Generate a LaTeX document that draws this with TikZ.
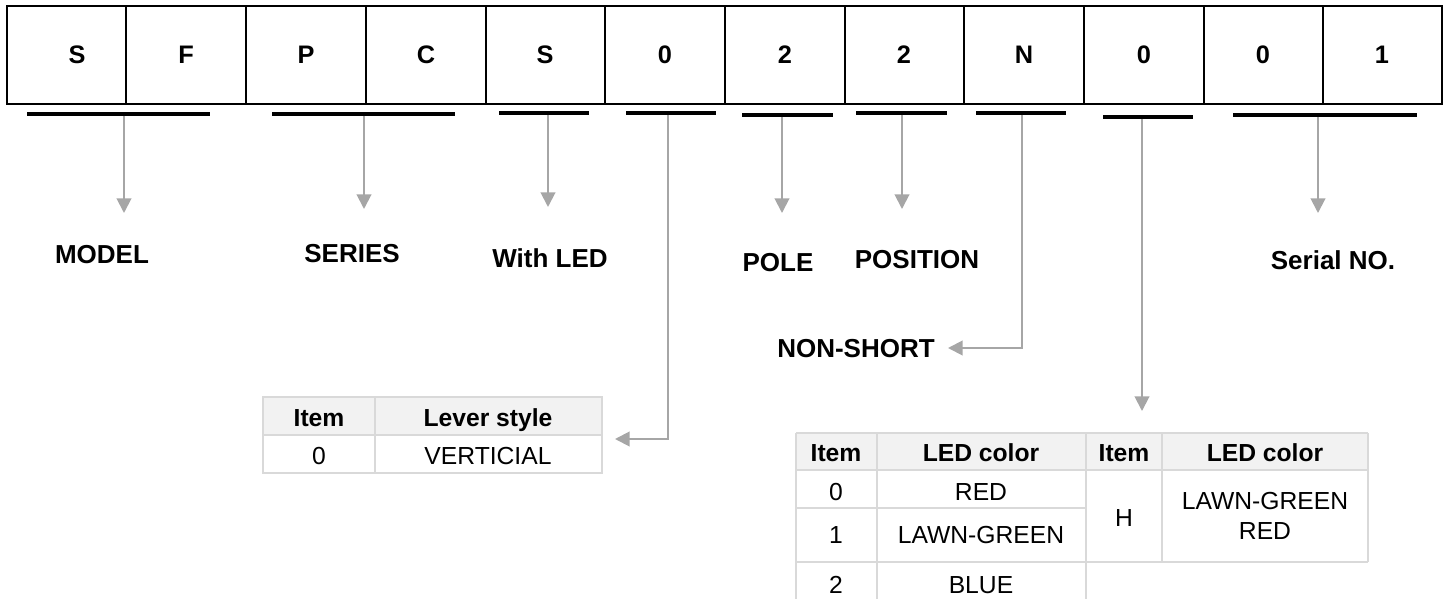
\documentclass[tikz,border=0pt]{standalone}
\usepackage{fontspec}
\setmainfont{Liberation Sans}
\usetikzlibrary{arrows.meta}
\definecolor{arrgray}{HTML}{A6A6A6}
\definecolor{tblline}{HTML}{D9D9D9}
\definecolor{tblfill}{HTML}{F2F2F2}
\begin{document}
\begin{tikzpicture}[x=0.75pt,y=-0.75pt,
  code/.style={font=\fontsize{19pt}{22pt}\selectfont\bfseries, inner sep=0pt, anchor=base},
  lbl/.style={font=\fontsize{19.5pt}{23pt}\selectfont\bfseries, inner sep=0pt, anchor=base},
  th/.style={font=\fontsize{18.5pt}{22pt}\selectfont\bfseries, inner sep=0pt, anchor=base},
  td/.style={font=\fontsize{18.5pt}{22pt}\selectfont, inner sep=0pt, anchor=base},
  tdm/.style={font=\fontsize{18.5pt}{22.5pt}\selectfont, inner sep=0pt, align=center},
  cellline/.style={line width=1.5pt, black},
  uline/.style={line width=3pt, black},
  conn/.style={line width=1.5pt, arrgray, -{Triangle[length=11pt,width=11pt]}},
  tline/.style={line width=1.1pt, tblline}]
\useasboundingbox (0,0) rectangle (1450,599);

% top code boxes
\draw[cellline] (7,6) rectangle (1442,104);
\foreach \x in {126,246,366,486,605,725,845,964,1084,1204,1323}
  \draw[cellline] (\x,6) -- (\x,104);
\node[code] (c1) at (77,64) {S};
\node[code] (c2) at (186,64) {F};
\node[code] (c3) at (306,64) {P};
\node[code] (c4) at (426,64) {C};
\node[code] (c5) at (545,64) {S};
\node[code] (c6) at (665,64) {0};
\node[code] (c7) at (785,64) {2};
\node[code] (c8) at (904,64) {2};
\node[code] (c9) at (1024,64) {N};
\node[code] (c10) at (1144,64) {0};
\node[code] (c11) at (1263,64) {0};
\node[code] (c12) at (1382,64) {1};

% underlines
\draw[uline] (27,114) -- (210,114);
\draw[uline] (272,114) -- (455,114);
\draw[uline] (499,113) -- (589,113);
\draw[uline] (626,113) -- (716,113);
\draw[uline] (742,115) -- (833,115);
\draw[uline] (856,113) -- (947,113);
\draw[uline] (976,113) -- (1066,113);
\draw[uline] (1103,117) -- (1193,117);
\draw[uline] (1233,115) -- (1417,115);

% connector start / end coordinates
\coordinate (u1) at (124,116);
\coordinate (t1) at (124,213);
\coordinate (u2) at (364,116);
\coordinate (t2) at (364,209);
\coordinate (u3) at (548,115);
\coordinate (t3) at (548,207);
\coordinate (u4) at (668,115);
\coordinate (k4) at (668,439);
\coordinate (t4) at (615,439);
\coordinate (u5) at (782,117);
\coordinate (t5) at (782,213);
\coordinate (u6) at (902,115);
\coordinate (t6) at (902,209);
\coordinate (u7) at (1022,115);
\coordinate (k7) at (1022,348);
\coordinate (t7) at (948,348);
\coordinate (u8) at (1142,119);
\coordinate (t8) at (1142,411);
\coordinate (u9) at (1318,117);
\coordinate (t9) at (1318,213);

\draw[conn] (u1) -- (t1);
\draw[conn] (u2) -- (t2);
\draw[conn] (u3) -- (t3);
\draw[conn] (u4) -- (k4) -- (t4);
\draw[conn] (u5) -- (t5);
\draw[conn] (u6) -- (t6);
\draw[conn] (u7) -- (k7) -- (t7);
\draw[conn] (u8) -- (t8);
\draw[conn] (u9) -- (t9);

% labels
\node[lbl] (model) at (102,263.5) {MODEL};
\node[lbl] (series) at (352,262.5) {SERIES};
\node[lbl] (withled) at (550,267.5) {With LED};
\node[lbl] (pole) at (778,271.5) {POLE};
\node[lbl] (position) at (917,268.5) {POSITION};
\node[lbl] (serial) at (1333,269.5) {Serial NO.};
\node[lbl] (nonshort) at (856,357.5) {NON-SHORT};

% lever style table
\fill[tblfill] (263,397) rectangle (602,435);
\draw[tline] (263,397) rectangle (602,473);
\draw[tline] (263,435) -- (602,435);
\draw[tline] (375,397) -- (375,473);
\node[th] (lh1) at (319,426) {Item};
\node[th] (lh2) at (488,426) {Lever style};
\node[td] (lr1) at (319,464) {0};
\node[td] (lr2) at (488,464) {VERTICIAL};

% LED color table
\fill[tblfill] (796,433) rectangle (1368,470);
\draw[tline] (796,433) -- (1368,433);
\draw[tline] (796,470) -- (1368,470);
\draw[tline] (796,508) -- (1086,508);
\draw[tline] (796,562) -- (1368,562);
\draw[tline] (796,433) -- (796,600);
\draw[tline] (877,433) -- (877,600);
\draw[tline] (1086,433) -- (1086,600);
\draw[tline] (1162,433) -- (1162,562);
\draw[tline] (1368,433) -- (1368,562);
\node[th] (eh1) at (836,461.5) {Item};
\node[th] (eh2) at (981,461.5) {LED color};
\node[th] (eh3) at (1124,461.5) {Item};
\node[th] (eh4) at (1265,461.5) {LED color};
\node[td] (e01) at (836,500.5) {0};
\node[td] (e02) at (981,500.5) {RED};
\node[td] (e11) at (836,543.5) {1};
\node[td] (e12) at (981,543.5) {LAWN-GREEN};
\node[td] (e21) at (836,593.5) {2};
\node[td] (e22) at (981,593.5) {BLUE};
\node[td] (eH) at (1124,526.5) {H};
\node[tdm] (eHc) at (1265,516) {LAWN-GREEN\\RED};
\end{tikzpicture}
\end{document}
